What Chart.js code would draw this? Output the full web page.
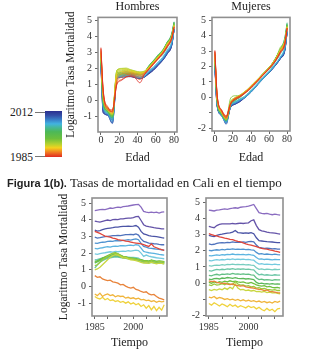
<!DOCTYPE html>
<html lang="es">
<head>
<meta charset="utf-8">
<title>Tasas de mortalidad en Cali</title>
<script src="https://cdn.jsdelivr.net/npm/chart.js@4.4.1/dist/chart.umd.min.js"></script>
<style>
  body { margin:0; width:331px; height:355px; background:#fff; position:relative; overflow:hidden;
         font-family:"Liberation Serif","DejaVu Serif",serif; color:#222; }
  canvas { position:absolute; }
  #barra { position:absolute; left:45px; top:111px; width:17px; height:46px; }
  .etq { position:absolute; left:10px; font-size:11.5px; line-height:12px; }
  .raya { position:absolute; left:35px; width:10px; height:1px; background:#777; }
  #pie { position:absolute; left:7px; top:175px; font-size:13px; line-height:15px; white-space:nowrap; }
  #pie b { font-family:"Liberation Sans",Arial,sans-serif; font-size:11px; }
</style>
</head>
<body>
<canvas id="edadH" width="119" height="167" style="left:62px;top:0"></canvas>
<canvas id="edadM" width="106" height="167" style="left:188px;top:0"></canvas>
<canvas id="tiempoH" width="116" height="162" style="left:55px;top:190px"></canvas>
<canvas id="tiempoM" width="105" height="162" style="left:182px;top:190px"></canvas>

<div id="barra"></div>
<div class="etq" style="top:106px">2012</div>
<div class="raya" style="top:112px"></div>
<div class="etq" style="top:151px">1985</div>
<div class="raya" style="top:156px"></div>
<div id="pie"><b>Figura 1(b).</b> Tasas de mortalidad en Cali en el tiempo</div>

<script>
// grupos de edad (0, 1-4, 5-9, ..., 75-79, 80+) y su posicion en el eje de edad
const edades = ['0', '1-4', '5-9', '10-14', '15-19', '20-24', '25-29', '30-34', '35-39', '40-44',
                '45-49', '50-54', '55-59', '60-64', '65-69', '70-74', '75-79', '80+'];
const edadX = [0, 2.5, 7.5, 12.5, 17.5, 22.5, 27.5, 32.5, 37.5, 42.5, 47.5, 52.5, 57.5, 62.5, 67.5, 72.5, 77.5, 80];
const anios = [1985, 1986, 1987, 1988, 1989, 1990, 1991, 1992, 1993, 1994, 1995, 1996, 1997, 1998,
               1999, 2000, 2001, 2002, 2003, 2004, 2005, 2006, 2007, 2008, 2009, 2010, 2011, 2012];
const edadTicks = [0, 20, 40, 60, 80];
const anioTicks = [1985, 1990, 1995, 2000, 2005, 2010];
const anioEtiquetas = [1985, 2000];

// log tasa de mortalidad, hombres, una fila por grupo de edad (1985..2012)
const hom0  = [3.30,3.24,3.18,3.10,3.02,2.98,2.95,2.90,2.86,2.80,2.78,2.76,2.72,2.70,2.66,2.62,2.60,2.58,2.55,2.50,2.45,2.40,2.55,2.38,2.32,2.25,2.20,2.16];
const hom1  = [0.65,0.55,0.58,0.45,0.40,0.35,0.38,0.28,0.25,0.20,0.10,0.12,0.02,-0.05,-0.10,-0.05,-0.18,-0.22,-0.30,-0.35,-0.32,-0.45,-0.50,-0.48,-0.60,-0.70,-0.75,-0.80];
const hom5  = [-0.45,-0.55,-0.40,-0.60,-0.50,-0.45,-0.55,-0.50,-0.62,-0.55,-0.60,-0.58,-0.70,-0.65,-0.72,-0.68,-0.75,-0.70,-0.80,-0.78,-0.85,-0.82,-0.90,-0.85,-0.95,-0.88,-0.92,-0.90];
const hom10 = [-0.60,-0.70,-0.75,-0.65,-0.80,-0.72,-0.85,-0.80,-0.90,-0.85,-0.95,-0.90,-1.00,-0.92,-1.05,-0.98,-1.10,-1.02,-1.20,-1.10,-1.30,-1.15,-1.40,-1.20,-1.45,-1.25,-1.42,-1.10];
const hom15 = [1.00,1.05,1.15,1.30,1.45,1.60,1.75,1.85,1.90,1.88,1.80,1.70,1.72,1.65,1.60,1.58,1.55,1.50,1.45,1.40,1.42,1.38,1.45,1.40,1.35,1.40,1.38,1.35];
const hom20 = [1.25,1.30,1.45,1.60,1.70,1.80,1.90,1.98,2.00,1.95,1.85,1.78,1.75,1.70,1.68,1.65,1.62,1.60,1.55,1.50,1.52,1.48,1.55,1.50,1.45,1.50,1.48,1.45];
const hom25 = [1.45,1.48,1.60,1.70,1.78,1.85,1.92,1.98,2.02,1.95,1.88,1.80,1.78,1.72,1.70,1.68,1.65,1.62,1.58,1.55,1.55,1.50,1.58,1.52,1.50,1.52,1.50,1.48];
const hom30 = [1.50,1.55,1.62,1.70,1.75,1.80,1.85,1.90,1.92,1.88,1.82,1.78,1.75,1.72,1.70,1.68,1.66,1.62,1.60,1.56,1.55,1.52,1.58,1.55,1.50,1.52,1.50,1.48];
const hom35 = [1.40,1.48,1.55,1.62,1.68,1.74,1.78,1.82,1.84,1.80,1.76,1.73,1.70,1.68,1.66,1.64,1.62,1.58,1.54,1.50,1.48,1.46,1.52,1.48,1.44,1.46,1.42,1.42];
const hom40 = [1.10,1.30,1.45,1.55,1.62,1.68,1.72,1.75,1.78,1.76,1.73,1.70,1.68,1.66,1.64,1.62,1.60,1.56,1.50,1.44,1.42,1.40,1.45,1.42,1.38,1.40,1.38,1.36];
const hom45 = [1.60,1.62,1.66,1.70,1.72,1.76,1.78,1.80,1.84,1.80,1.78,1.77,1.76,1.75,1.74,1.74,1.72,1.70,1.60,1.52,1.50,1.47,1.52,1.50,1.46,1.48,1.46,1.45];
const hom50 = [1.95,1.92,1.96,2.00,2.02,2.05,2.08,2.06,2.10,2.08,2.10,2.12,2.10,2.14,2.12,2.15,2.18,2.15,2.00,1.80,1.88,1.82,1.78,1.75,1.72,1.70,1.68,1.66];
const hom55 = [2.28,2.25,2.30,2.32,2.35,2.38,2.36,2.40,2.42,2.40,2.44,2.45,2.43,2.46,2.48,2.45,2.50,2.48,2.30,2.10,2.05,2.02,2.00,1.98,1.95,1.92,1.90,1.88];
const hom60 = [2.60,2.58,2.62,2.65,2.66,2.70,2.72,2.70,2.74,2.75,2.73,2.76,2.78,2.80,2.78,2.82,2.85,2.80,2.58,2.40,2.35,2.30,2.28,2.26,2.24,2.22,2.20,2.18];
const hom65 = [2.95,2.90,2.92,2.96,2.98,3.00,3.02,3.04,3.05,3.06,3.05,3.08,3.10,3.10,3.12,3.10,3.15,3.08,2.85,2.70,2.65,2.60,2.58,2.56,2.55,2.52,2.50,2.50];
const hom70 = [3.38,3.32,3.35,3.40,3.45,3.48,3.50,3.52,3.55,3.55,3.58,3.60,3.60,3.62,3.60,3.62,3.65,3.55,3.30,3.15,3.10,3.05,3.02,3.00,2.98,2.95,2.92,2.90];
const hom75 = [3.92,3.88,3.85,3.90,3.95,3.98,3.95,4.00,4.02,4.00,4.05,4.05,4.08,4.10,4.10,4.12,4.18,4.20,3.95,3.70,3.62,3.58,3.55,3.52,3.50,3.48,3.45,3.45];
const hom80 = [4.55,4.58,4.60,4.62,4.60,4.65,4.70,4.68,4.72,4.75,4.73,4.78,4.80,4.82,4.85,4.88,4.90,4.92,4.75,4.50,4.45,4.42,4.45,4.43,4.45,4.40,4.45,4.47];

// log tasa de mortalidad, mujeres
const muj0  = [3.05,3.00,2.95,2.92,2.85,2.82,2.78,2.75,2.70,2.68,2.62,2.58,2.55,2.48,2.42,2.38,2.35,2.30,2.25,2.20,2.15,2.12,2.10,2.05,2.02,1.98,1.95,1.90];
const muj1  = [0.15,0.10,0.12,0.05,0.02,-0.02,0.00,-0.05,-0.08,-0.05,-0.12,-0.15,-0.18,-0.15,-0.22,-0.25,-0.28,-0.30,-0.35,-0.38,-0.40,-0.45,-0.42,-0.50,-0.52,-0.55,-0.58,-0.60];
const muj5  = [-0.85,-0.90,-0.82,-0.95,-0.88,-0.92,-1.00,-0.95,-1.02,-0.98,-1.05,-1.00,-1.08,-1.02,-1.10,-1.05,-1.12,-1.08,-1.15,-1.10,-1.18,-1.12,-1.20,-1.15,-1.22,-1.12,-1.18,-1.10];
const muj10 = [-1.25,-1.35,-1.20,-1.30,-1.40,-1.28,-1.35,-1.45,-1.30,-1.42,-1.35,-1.48,-1.38,-1.45,-1.52,-1.40,-1.50,-1.45,-1.58,-1.48,-1.62,-1.70,-1.55,-1.68,-1.60,-1.75,-1.58,-1.55];
const muj15 = [-0.40,-0.45,-0.38,-0.42,-0.35,-0.40,-0.30,-0.38,-0.25,-0.35,-0.05,-0.30,-0.40,-0.38,-0.45,-0.42,-0.48,-0.45,-0.52,-0.50,-0.55,-0.50,-0.58,-0.55,-0.60,-0.58,-0.62,-0.65];
const muj20 = [-0.10,-0.15,-0.05,-0.12,-0.08,-0.02,-0.10,0.00,-0.05,-0.08,0.10,-0.05,-0.12,-0.10,-0.18,-0.15,-0.22,-0.20,-0.30,-0.28,-0.35,-0.32,-0.38,-0.40,-0.42,-0.40,-0.45,-0.45];
const muj25 = [0.05,0.00,0.08,0.02,0.10,0.05,0.12,0.08,0.15,0.10,0.12,0.08,0.05,0.08,0.02,0.00,0.05,-0.02,-0.10,-0.15,-0.18,-0.15,-0.22,-0.20,-0.25,-0.28,-0.26,-0.30];
const muj30 = [0.25,0.22,0.28,0.30,0.26,0.32,0.30,0.35,0.33,0.30,0.34,0.30,0.28,0.30,0.26,0.28,0.25,0.22,0.05,-0.02,0.00,-0.04,-0.02,-0.05,-0.03,-0.06,-0.04,-0.05];
const muj35 = [0.48,0.45,0.52,0.55,0.50,0.56,0.54,0.58,0.55,0.60,0.56,0.58,0.55,0.57,0.54,0.56,0.52,0.50,0.32,0.22,0.25,0.20,0.22,0.20,0.18,0.22,0.20,0.20];
const muj40 = [0.78,0.75,0.80,0.85,0.82,0.86,0.84,0.88,0.86,0.90,0.85,0.88,0.86,0.88,0.85,0.87,0.84,0.82,0.65,0.52,0.55,0.50,0.52,0.50,0.48,0.52,0.50,0.50];
const muj45 = [1.08,1.05,1.10,1.12,1.10,1.15,1.12,1.16,1.14,1.18,1.15,1.16,1.14,1.16,1.13,1.15,1.12,1.10,0.95,0.85,0.88,0.84,0.86,0.85,0.82,0.86,0.84,0.85];
const muj50 = [1.40,1.38,1.42,1.45,1.42,1.46,1.44,1.48,1.46,1.50,1.46,1.48,1.46,1.48,1.45,1.47,1.44,1.42,1.28,1.18,1.20,1.16,1.18,1.16,1.14,1.17,1.15,1.15];
const muj55 = [1.70,1.68,1.72,1.74,1.72,1.76,1.74,1.78,1.76,1.80,1.76,1.78,1.76,1.78,1.75,1.77,1.74,1.72,1.58,1.48,1.50,1.46,1.48,1.46,1.44,1.47,1.45,1.45];
const muj60 = [2.02,2.00,2.04,2.06,2.04,2.08,2.06,2.10,2.08,2.12,2.08,2.10,2.08,2.10,2.07,2.09,2.06,2.04,1.90,1.80,1.82,1.78,1.80,1.78,1.76,1.79,1.76,1.75];
const muj65 = [2.42,2.38,2.40,2.45,2.48,2.50,2.48,2.52,2.50,2.55,2.52,2.54,2.52,2.55,2.52,2.56,2.58,2.55,2.35,2.20,2.18,2.15,2.16,2.14,2.12,2.13,2.10,2.10];
const muj70 = [2.95,2.90,2.88,2.95,3.00,3.02,3.05,3.08,3.10,3.15,3.25,3.12,3.10,3.08,3.10,3.08,3.12,3.05,2.80,2.62,2.60,2.58,2.56,2.55,2.54,2.52,2.50,2.50];
const muj75 = [3.50,3.45,3.42,3.55,3.62,3.65,3.65,3.66,3.65,3.68,3.66,3.68,3.70,3.68,3.70,3.72,3.85,3.90,3.55,3.30,3.22,3.20,3.15,3.12,3.10,3.08,3.05,3.03];
const muj80 = [4.50,4.48,4.45,4.50,4.52,4.55,4.58,4.55,4.60,4.62,4.65,4.62,4.68,4.70,4.72,4.75,4.80,4.85,4.60,4.35,4.30,4.28,4.30,4.25,4.22,4.25,4.22,4.20];

const hombres = [hom0, hom1, hom5, hom10, hom15, hom20, hom25, hom30, hom35, hom40, hom45, hom50, hom55, hom60, hom65, hom70, hom75, hom80];
const mujeres = [muj0, muj1, muj5, muj10, muj15, muj20, muj25, muj30, muj35, muj40, muj45, muj50, muj55, muj60, muj65, muj70, muj75, muj80];

// colores
const fuente = '"Liberation Serif", "DejaVu Serif", serif';
const paradas = [[0,'#e02a22'],[0.10,'#f07a22'],[0.20,'#f5d21e'],[0.28,'#b5d230'],[0.40,'#6cbf3c'],
                 [0.55,'#4cb858'],[0.65,'#45b8a0'],[0.72,'#42b4e0'],[0.80,'#3a85cc'],[0.90,'#3450a8'],[1,'#2b2f8f']];
const coloresEdad = ['#e0453a','#e8833a','#f0b43a','#efd23c','#c8d640','#9acb3c','#6fc03e','#5cb85a','#62bf84',
                     '#6cc6a6','#78cdc0','#74cadf','#5cb4e0','#4f93d0','#4f72bc','#4b54a6','#6453a8','#8a6cc0'];

function hexRgb(h) {
  return [parseInt(h.slice(1,3),16), parseInt(h.slice(3,5),16), parseInt(h.slice(5,7),16)];
}
function colorAnio(t, alfa) {
  for (let k = 1; k < paradas.length; k++) {
    if (t <= paradas[k][0]) {
      const [t0, c0] = paradas[k-1], [t1, c1] = paradas[k];
      const f = (t - t0) / (t1 - t0), a = hexRgb(c0), b = hexRgb(c1);
      const c = a.map((v, n) => Math.round(v + (b[n] - v) * f));
      return 'rgba(' + c.join(',') + ',' + alfa + ')';
    }
  }
  return paradas[paradas.length-1][1];
}

document.getElementById('barra').style.background =
  'linear-gradient(to top, ' + paradas.map(p => p[1] + ' ' + (p[0]*100) + '%').join(', ') + ')';

// marco gris alrededor del area del grafico
const marco = {
  id: 'marco',
  afterDatasetsDraw(chart) {
    const {ctx, chartArea: a} = chart;
    ctx.save();
    ctx.strokeStyle = '#8f8f8f';
    ctx.lineWidth = 1.6;
    ctx.strokeRect(a.left, a.top, a.right - a.left, a.bottom - a.top);
    ctx.restore();
  }
};

function panel(id, cfg) {
  new Chart(document.getElementById(id), {
    type: 'line',
    data: { datasets: cfg.datasets },
    options: {
      responsive: false,
      animation: false,
      events: [],
      layout: { padding: cfg.padding },
      elements: { point: { radius: 0 } },
      plugins: {
        legend: { display: false },
        tooltip: { enabled: false },
        title: cfg.titulo ? {
          display: true, text: cfg.titulo, fullSize: false, color: '#222',
          font: { family: fuente, size: 12, weight: 'normal', lineHeight: 1.2 },
          padding: { top: 0, bottom: 3 }
        } : { display: false }
      },
      scales: {
        x: {
          type: 'linear', min: cfg.xMin, max: cfg.xMax,
          afterFit: s => { s.height = cfg.xAlto; },
          afterBuildTicks: s => { s.ticks = cfg.xTicks.map(v => ({ value: v })); },
          ticks: {
            autoSkip: false, maxRotation: 0, minRotation: 0, padding: cfg.xPad, color: '#333',
            font: { family: fuente, size: 10, lineHeight: 1 },
            callback: cfg.xEtiqueta
          },
          grid: { drawOnChartArea: false, drawTicks: true, tickLength: 3, color: '#666' },
          border: { display: false },
          title: {
            display: true, text: cfg.xTitulo, color: '#222',
            font: { family: fuente, size: 12, lineHeight: 1.2 }, padding: { top: 0, bottom: 2 }
          }
        },
        y: {
          min: cfg.yMin, max: cfg.yMax,
          afterFit: s => { s.width = cfg.yAncho; },
          ticks: {
            stepSize: 1, includeBounds: false, padding: 3, color: '#333',
            font: { family: fuente, size: 10, lineHeight: 1 },
            callback: v => (cfg.ySinEtiqueta.includes(v) ? '' : String(v))
          },
          grid: { drawOnChartArea: false, drawTicks: true, tickLength: 3, color: '#666' },
          border: { display: false },
          title: {
            display: cfg.yTitulo, text: 'Logaritmo Tasa Mortalidad', color: '#222',
            font: { family: fuente, size: 11.5, lineHeight: 1.2 }, padding: { top: 2, bottom: 0 }
          }
        }
      }
    },
    plugins: [marco]
  });
}

// una curva por año a lo largo de la edad
function curvasPorAnio(filas) {
  return anios.map((anio, j) => ({
    data: edadX.map((e, i) => ({ x: e, y: filas[i][j] })),
    borderColor: colorAnio((anio - anios[0]) / (anios[anios.length-1] - anios[0]), 0.8),
    borderWidth: 1,
    cubicInterpolationMode: 'monotone',
    fill: false
  }));
}
// una curva por grupo de edad a lo largo del tiempo
function curvasPorEdad(filas) {
  return edades.map((e, i) => ({
    label: e,
    data: anios.map((a, j) => ({ x: a, y: filas[i][j] })),
    borderColor: coloresEdad[i],
    borderWidth: 1.3,
    tension: 0,
    fill: false
  }));
}

const etiquetaEdad = v => String(v);
const etiquetaAnio = v => (anioEtiquetas.includes(v) ? String(v) : '');

panel('edadH', {
  datasets: curvasPorAnio(hombres), titulo: 'Hombres', padding: { top: 0, right: 4, bottom: 0, left: 0 },
  xMin: -3.2, xMax: 83.2, xTicks: edadTicks, xEtiqueta: etiquetaEdad, xTitulo: 'Edad', xAlto: 35, xPad: 0,
  yMin: -1.98, yMax: 5.19, yAncho: 36, yTitulo: true, ySinEtiqueta: []
});
panel('edadM', {
  datasets: curvasPorAnio(mujeres), titulo: 'Mujeres', padding: { top: 0, right: 4, bottom: 0, left: 0 },
  xMin: -3.2, xMax: 83.2, xTicks: edadTicks, xEtiqueta: etiquetaEdad, xTitulo: 'Edad', xAlto: 36, xPad: 0,
  yMin: -2.19, yMax: 5.19, yAncho: 24, yTitulo: false, ySinEtiqueta: [-1]
});
panel('tiempoH', {
  datasets: curvasPorEdad(hombres), titulo: null, padding: { top: 7, right: 4, bottom: 0, left: 0 },
  xMin: 1983.92, xMax: 2013.08, xTicks: anioTicks, xEtiqueta: etiquetaAnio, xTitulo: 'Tiempo', xAlto: 36, xPad: 3,
  yMin: -1.77, yMax: 5.3, yAncho: 37, yTitulo: true, ySinEtiqueta: []
});
panel('tiempoM', {
  datasets: curvasPorEdad(mujeres), titulo: null, padding: { top: 7, right: 4, bottom: 0, left: 0 },
  xMin: 1983.92, xMax: 2013.08, xTicks: anioTicks, xEtiqueta: etiquetaAnio, xTitulo: 'Tiempo', xAlto: 36, xPad: 3,
  yMin: -2.02, yMax: 5.25, yAncho: 24, yTitulo: false, ySinEtiqueta: [-1]
});
</script>
</body>
</html>
